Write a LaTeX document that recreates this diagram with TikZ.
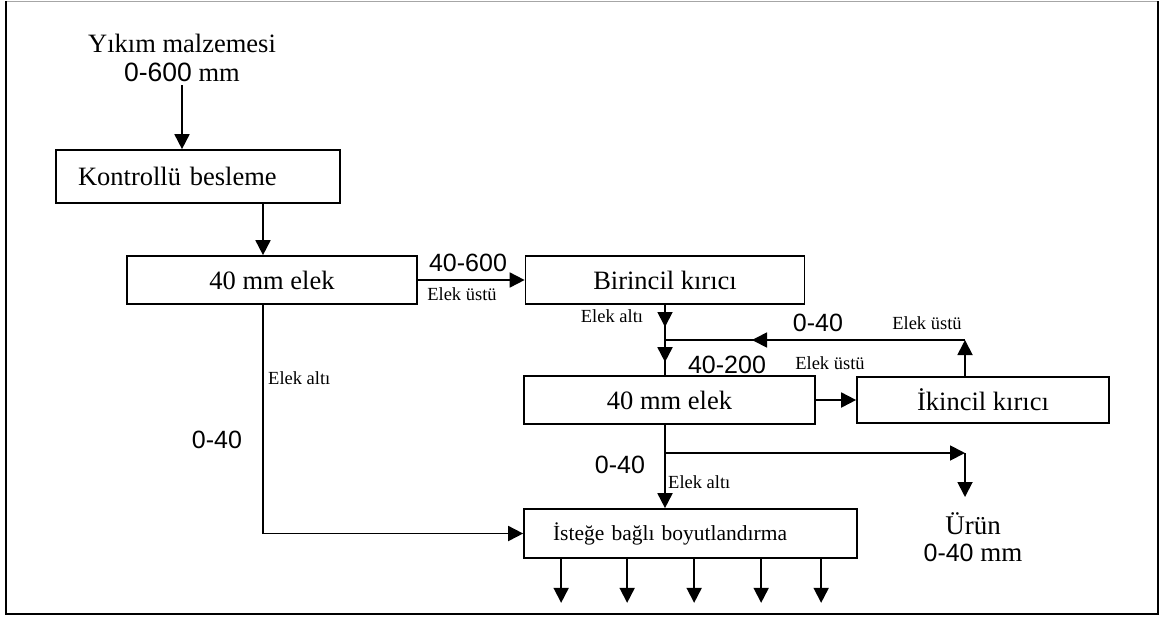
\documentclass[tikz,border=0pt]{standalone}
\usepackage{fontspec}
\setmainfont{Liberation Serif}
\newfontfamily\numfont{Liberation Sans}
\usetikzlibrary{arrows.meta}

\tikzset{
    box/.style={draw, rectangle, line width=1.7pt, inner sep=0pt, font=\fontsize{26.5}{30}\selectfont},
    arr/.style={-{Triangle[length=15pt,width=15pt]}, line width=1.8pt},
    flow/.style={line width=1.8pt},
    num/.style={inner sep=0pt, font=\numfont\fontsize{25}{28}\selectfont},
    small/.style={inner sep=0pt, font=\fontsize{18.5}{21}\selectfont},
}

\begin{document}
\begin{tikzpicture}[x=1pt, y=-1pt]

    \useasboundingbox (0,0) rectangle (1161,619);

    % Frame
    \draw[gray!70, line width=1pt] (6,1) -- (1158,1);
    \draw[line width=1.8pt] (1158,1) -- (1158,614) -- (6,614) -- (6,1);

    % Input material
    \node (input) [align=center, font=\fontsize{26.5}{29}\selectfont] at (182,58) {Yıkım malzemesi\\{\numfont 0-600} mm};

    % Process boxes
    \node (feed) [box, minimum width=284pt, minimum height=53pt, text width=240pt, inner xsep=22pt, align=left] at (198,176.5) {Kontrollü besleme};
    \node (screenA) [box, minimum width=290pt, minimum height=48pt] at (272,280) {40 mm elek};
    \node (primary) [box, minimum width=279pt, minimum height=48pt] at (665,280) {Birincil kırıcı};
    \node (screenB) [box, minimum width=291pt, minimum height=48pt] at (669.5,400) {40 mm elek};
    \node (secondary) [box, minimum width=252pt, minimum height=46pt] at (983,400) {İkincil kırıcı};
    \node (sizing) [box, minimum width=333pt, minimum height=49pt, text width=275pt, inner xsep=29pt, align=left, font=\fontsize{21.5}{24}\selectfont] at (690.5,533.5) {İsteğe bağlı boyutlandırma};

    % Product
    \node (product) [anchor=north, inner sep=0pt, align=center, font=\fontsize{27}{27}\selectfont] at (973,512) {Ürün\\{\numfont\fontsize{25}{27}\selectfont 0-40} mm};

    % Junctions
    \coordinate (junc) at (665,340);
    \coordinate (ret) at (965,340);
    \coordinate (branch) at (665,453);
    \coordinate (prodin) at (965,497);

    % Main line
    \draw[arr] (input.south) -- (input.south |- feed.north);
    \draw[arr] ([xshift=65pt]feed.south) -- ([xshift=65pt]feed.south |- screenA.north);
    \draw[arr] (screenA.east) -- (primary.west);
    \draw[flow] (primary.south) -- (junc) -- (junc |- screenB.north);
    \draw[arr, shorten >=13pt] (primary.south) -- (junc);
    \draw[arr, shorten >=13pt] (junc) -- (junc |- screenB.north);
    \draw[arr] (screenB.east) -- (secondary.west);

    % Return from secondary crusher
    \draw[arr] (secondary.north -| ret) -- (ret);
    \draw[flow] (ret) -- (junc);
    \draw[arr, shorten >=87pt] (ret) -- (junc);

    % Undersize
    \draw[arr] (junc |- screenB.south) -- (junc |- sizing.north);
    \draw[arr] (branch) -- (branch -| prodin);
    \draw[arr] (branch -| prodin) -- (prodin);
    \draw[arr] ([xshift=-9pt]screenA.south) |- (sizing.west);

    % Outputs
    \foreach \dx [count=\i] in {38,104,171,238,298} {
        \coordinate (out\i) at ([xshift=\dx pt, yshift=-44pt]sizing.south west);
        \draw[arr] (out\i |- sizing.south) -- (out\i);
    }

    % Labels
    \node (l1) [num] at (468,263) {40-600};
    \node (l2) [small] at (462,294) {Elek üstü};
    \node (l3) [small] at (612,316) {Elek altı};
    \node (l4) [num] at (818,323) {0-40};
    \node (l5) [small] at (927,323) {Elek üstü};
    \node (l6) [num] at (727,365) {40-200};
    \node (l7) [small] at (830,363) {Elek üstü};
    \node (l8) [small, anchor=west] at (268,378) {Elek altı};
    \node (l9) [num] at (217,440) {0-40};
    \node (l10) [num] at (620,465) {0-40};
    \node (l11) [small, anchor=west] at (668,482) {Elek altı};

\end{tikzpicture}
\end{document}
